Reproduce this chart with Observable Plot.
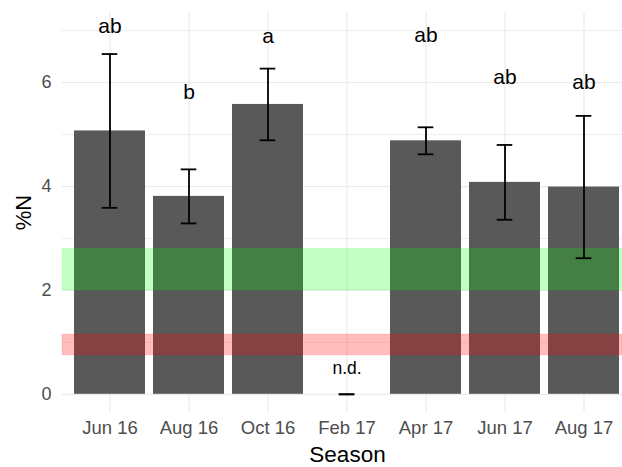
<!DOCTYPE html>
<html>
<head>
<meta charset="utf-8">
<script src="https://cdn.jsdelivr.net/npm/d3@7"></script>
<script src="https://cdn.jsdelivr.net/npm/@observablehq/plot@0.6"></script>
<style>
  html, body { margin: 0; padding: 0; background: #fff; }
  svg { font-family: "Liberation Sans", Arial, sans-serif; }
</style>
</head>
<body>
<div id="chart"></div>
<script>
const categories = ["Jun 16", "Aug 16", "Oct 16", "Feb 17", "Apr 17", "Jun 17", "Aug 17"];
const means = [5.07, 3.81, 5.58, 0, 4.88, 4.08, 3.99];
const errors = [1.48, 0.52, 0.69, 0, 0.26, 0.72, 1.37];
const letters = ["ab", "b", "a", "n.d.", "ab", "ab", "ab"];
const letterY = [6.95, 5.69, 6.76, 0.40, 6.78, 5.97, 5.88];
const sufficiencyBand = [2.0, 2.8];
const deficiencyBand = [0.75, 1.15];
const yMajorTicks = [0, 2, 4, 6];
const yMinorTicks = [1, 3, 5, 7];

const data = categories.map((c, i) => ({
  season: c, mean: means[i], lo: means[i] - errors[i], hi: means[i] + errors[i],
  letter: letters[i], ly: letterY[i]
}));
const bands = [
  {y1: sufficiencyBand[0], y2: sufficiencyBand[1], fill: "#00ff00", op: 0.23},
  {y1: deficiencyBand[0], y2: deficiencyBand[1], fill: "#ff0000", op: 0.26}
];

const W = 622, H = 467;
const mL = 62, mT = 12, mB = 55;
// discrete axis like ggplot: panel wider than image (cropped on the right)
const step = 79.33;
const xRange = [mL - 0.6, mL - 0.6 + 7.2 * step];

const plot = Plot.plot({
  width: W, height: H,
  marginLeft: mL, marginRight: 0, marginTop: mT, marginBottom: mB,
  x: {domain: categories, range: xRange, paddingInner: 0.1, paddingOuter: 0.15},
  y: {domain: [-0.35, 7.35]},
  marks: [
    Plot.ruleY(yMinorTicks, {stroke: "#ebebeb", strokeWidth: 0.9}),
    Plot.ruleY(yMajorTicks, {stroke: "#ebebeb", strokeWidth: 1.2}),
    Plot.gridX({stroke: "#ebebeb", strokeOpacity: 1, strokeWidth: 1.2}),
    Plot.barY(data, {x: "season", y: "mean", fill: "#595959"}),
    Plot.rect(bands, {y1: "y1", y2: "y2", fill: "fill", fillOpacity: "op", stroke: "fill", strokeOpacity: 0.12, strokeWidth: 1}),
    Plot.ruleX(data, {x: "season", y1: "lo", y2: "hi", stroke: "black", strokeWidth: 1.8}),
    Plot.tickY(data, {x: "season", y: "hi", stroke: "black", strokeWidth: 1.8, insetLeft: 27.7, insetRight: 27.7}),
    Plot.tickY(data, {x: "season", y: "lo", stroke: "black", strokeWidth: 1.8, insetLeft: 27.7, insetRight: 27.7}),
    Plot.text(data.filter(d => d.letter !== "n.d."), {x: "season", y: "ly", text: "letter", fontSize: 21, lineAnchor: "bottom", fill: "black"}),
    Plot.text(data.filter(d => d.letter === "n.d."), {x: "season", y: "ly", text: "letter", fontSize: 17.5, lineAnchor: "bottom", fill: "black"}),
    Plot.axisY(yMajorTicks, {tickSize: 0, tickPadding: 11, fontSize: 18, color: "#4d4d4d", label: null, tickFormat: d => String(d)}),
    Plot.axisX({tickSize: 0, tickPadding: 8, fontSize: 18.5, color: "#4d4d4d", label: null}),
    Plot.text(["Season"], {frameAnchor: "bottom", textAnchor: "middle", dx: 5, dy: 42, fontSize: 22.5, fill: "black", lineAnchor: "middle"}),
    Plot.text(["%N"], {frameAnchor: "left", textAnchor: "middle", dx: -39, rotate: -90, fontSize: 22, fill: "black", lineAnchor: "middle"})
  ]
});
document.getElementById("chart").appendChild(plot);
</script>
</body>
</html>
